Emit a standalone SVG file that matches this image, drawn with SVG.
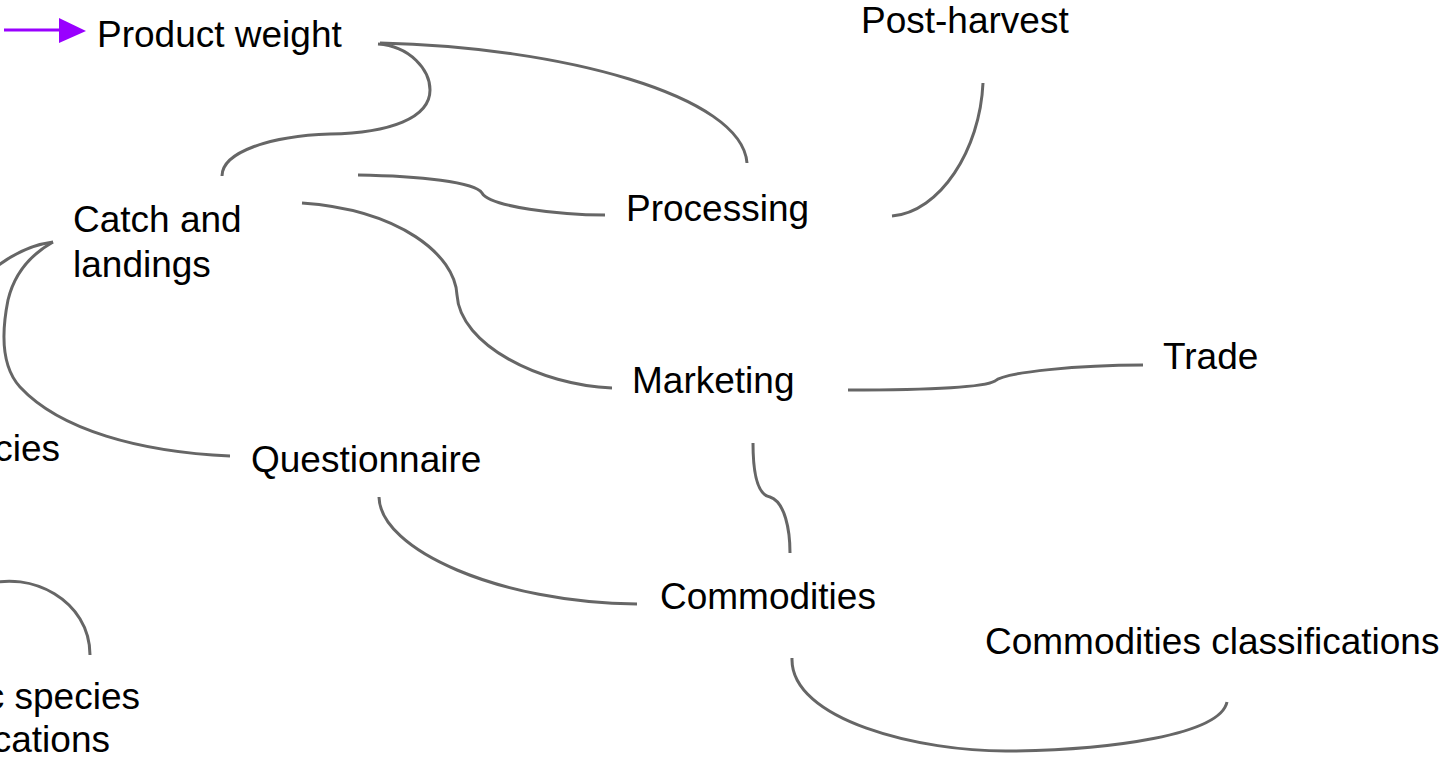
<svg xmlns="http://www.w3.org/2000/svg" width="1450" height="758" viewBox="0 0 1450 758">
<style>
.lbl{font-family:"Liberation Sans",Arial,sans-serif;font-size:37px;fill:#000}
.end{text-anchor:end}
.cn{fill:none;stroke:#666;stroke-width:3;stroke-linecap:butt}
</style>
<rect width="1450" height="758" fill="#fff"/>
<g id="connectors">
<path class="cn" d="M378,44 C410,46 430,70 430,90 C430,118 390,133 330,134 C270,136 222,152 222,176"/>
<path class="cn" d="M380,43 C560,47 742,95 747,163"/>
<path class="cn" d="M358,175 C420,176 475,182 482,193 C490,207 560,215 605,215"/>
<path class="cn" d="M302,203 C400,210 455,255 457,295 C460,345 540,385 612,388"/>
<path class="cn" d="M230,456 C140,452 60,430 20,387 C0,365 2,330 8,300 C14,275 30,255 53,242"/>
<path class="cn" d="M-10,272 C10,255 30,245 53,242"/>
<path class="cn" d="M-15,585 C30,570 90,600 90,655"/>
<path class="cn" d="M983,83 C980,150 940,212 892,216"/>
<path class="cn" d="M848,390 C930,390 985,387 995,381 C1005,372 1080,365 1143,365"/>
<path class="cn" d="M753,443 C753,475 758,495 770,497 C785,502 790,530 790,553"/>
<path class="cn" d="M379,497 C380,550 500,603 637,604"/>
<path class="cn" d="M792,658 C790,720 920,752 1010,751 C1110,750 1220,735 1227,702"/>
<g id="arrow">
<line x1="4" y1="30" x2="62" y2="30" stroke="#9900ff" stroke-width="3"/>
<polygon points="59,18 86,31 59,43" fill="#9900ff"/>
</g>
</g>
<g id="product-weight"><text class="lbl" x="97" y="47">Product weight</text></g>
<g id="post-harvest"><text class="lbl" x="861" y="33">Post-harvest</text></g>
<g id="catch-and-landings"><text class="lbl" x="73" y="232">Catch and</text><text class="lbl" x="73" y="277">landings</text></g>
<g id="processing"><text class="lbl" x="626" y="221">Processing</text></g>
<g id="trade"><text class="lbl" x="1163" y="369">Trade</text></g>
<g id="marketing"><text class="lbl" x="632" y="393">Marketing</text></g>
<g id="questionnaire"><text class="lbl" x="251" y="472">Questionnaire</text></g>
<g id="commodities"><text class="lbl" x="660" y="609">Commodities</text></g>
<g id="commodities-classifications"><text class="lbl" x="985" y="654">Commodities classifications</text></g>
<g id="species"><text class="lbl end" x="60" y="461">cies</text></g>
<g id="species-classifications"><text class="lbl end" x="140" y="709">c species</text><text class="lbl end" x="110" y="752">cations</text></g>
</svg>
